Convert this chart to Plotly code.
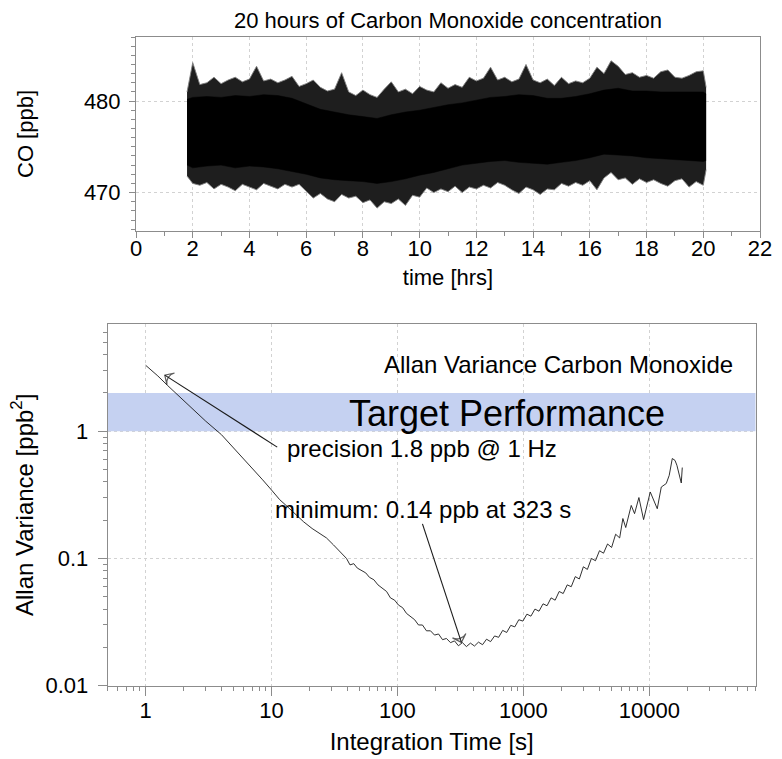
import math
import plotly.graph_objects as go

W, H = 782, 759

# ---------------- data ----------------
# Top panel: envelope of the 1 Hz CO record (spike tips and dense core)
t_hrs = [1.8, 2.0, 2.25, 2.5, 2.75, 3.0, 3.25, 3.5, 3.75, 4.0, 4.25, 4.5, 4.75,
         5.0, 5.25, 5.5, 5.75, 6.0, 6.25, 6.5, 6.75, 7.0, 7.25, 7.5, 7.75,
         8.0, 8.25, 8.5, 8.75, 9.0, 9.25, 9.5, 9.75, 10.0, 10.25, 10.5, 10.75,
         11.0, 11.25, 11.5, 11.75, 12.0, 12.25, 12.5, 12.75, 13.0, 13.25, 13.5, 13.75,
         14.0, 14.25, 14.5, 14.75, 15.0, 15.25, 15.5, 15.75, 16.0, 16.25, 16.5, 16.75,
         17.0, 17.25, 17.5, 17.75, 18.0, 18.25, 18.5, 18.75, 19.0, 19.25, 19.5, 19.75,
         20.0, 20.1]
co_max = [481.0, 484.2, 481.8, 482.0, 482.6, 481.9, 482.3, 482.6, 482.1, 482.4, 483.8, 482.2, 482.4,
          482.0, 482.3, 482.7, 481.6, 481.9, 482.3, 481.5, 481.1, 481.3, 483.1, 481.0, 480.6,
          481.2, 480.7, 480.4, 481.3, 482.1, 481.0, 481.3, 480.8, 481.6, 481.2, 481.0, 482.0,
          481.4, 481.8, 481.5, 482.6, 482.2, 482.5, 483.7, 482.3, 482.6, 482.1, 482.4, 484.0,
          482.3, 482.0, 482.4, 481.7, 482.6, 481.9, 482.2, 482.0, 482.5, 483.7, 483.0, 484.4,
          483.8, 482.9, 483.1, 482.6, 482.8, 482.5, 483.2, 483.4, 482.6, 482.5, 482.8, 483.2,
          483.3, 481.5]
co_min = [471.8, 471.0, 470.8, 471.1, 470.4, 470.9, 470.6, 470.2, 470.9, 470.6, 470.3, 471.0, 470.7,
          470.4, 470.9, 470.6, 470.9, 470.2, 469.4, 469.9, 469.3, 469.0, 469.8, 469.4, 469.6,
          468.9, 469.2, 468.3, 469.0, 468.8, 469.3, 468.6, 469.7, 469.5, 470.5, 470.0, 470.4,
          470.1, 470.7, 470.0, 470.6, 470.4, 470.8, 470.5, 471.1, 470.8, 470.3, 469.9, 470.6,
          470.3, 469.8, 470.4, 470.3, 471.0, 470.7, 471.1, 470.8, 471.3, 470.3, 471.6, 472.2,
          471.4, 471.6, 470.9, 471.5, 471.1, 471.4, 471.0, 470.7, 471.3, 471.5, 470.6, 471.2,
          470.8, 472.5]
t_core = [1.8, 2.0, 2.5, 3.0, 3.5, 4.0, 4.5, 5.0, 5.5, 6.0, 6.5, 7.0, 7.5, 8.0, 8.5, 9.0,
          9.5, 10.0, 10.5, 11.0, 11.5, 12.0, 12.5, 13.0, 13.5, 14.0, 14.5, 15.0, 15.5, 16.0,
          16.5, 17.0, 17.5, 18.0, 18.5, 19.0, 19.5, 20.0, 20.1]
co_hi = [480.2, 480.4, 480.5, 480.4, 480.6, 480.5, 480.7, 480.6, 480.3, 479.7, 479.1, 478.8,
         478.5, 478.3, 478.1, 478.5, 478.8, 479.0, 479.3, 479.6, 479.8, 480.1, 480.4, 480.5,
         480.7, 480.6, 480.3, 480.3, 480.5, 480.8, 481.2, 481.4, 481.1, 481.1, 481.0, 481.0,
         481.0, 481.0, 480.8]
co_lo = [473.0, 472.7, 472.9, 473.0, 472.7, 472.9, 472.8, 472.6, 472.3, 472.0, 471.6, 471.4,
         471.3, 471.2, 471.0, 471.2, 471.5, 471.9, 472.2, 472.6, 473.0, 473.2, 473.4, 473.5,
         473.3, 473.2, 473.1, 473.3, 473.5, 473.8, 474.2, 474.1, 474.0, 473.8, 473.7, 473.6,
         473.5, 473.4, 473.5]

# Bottom panel: Allan variance vs integration time
tau_s = [1, 1.25, 1.5, 2, 2.5, 3, 4, 5, 6, 7, 8.5, 10, 11.6, 13, 15.8, 18, 21, 24, 27.3, 31,
         35, 39.4, 42, 45, 48, 52, 56, 60, 65, 70, 76, 82, 88, 95, 102, 110, 118, 127, 137,
         147, 158, 170, 183, 197, 212, 228, 245, 264, 284, 305, 328, 353, 380, 409, 440, 474,
         510, 549, 591, 636, 685, 737, 794, 855, 920, 991, 1067, 1148, 1236, 1331, 1433, 1542,
         1660, 1788, 1925, 2072, 2230, 2400, 2584, 2782, 2995, 3224, 3471, 3737, 4023, 4331,
         4663, 5020, 5404, 5818, 6170, 6500, 7190, 7640, 8270, 9010, 10180, 11570, 12450,
         13640, 14400, 15230, 16000, 16570, 17950, 18280]
allan_var = [3.30, 2.72, 2.28, 1.75, 1.42, 1.20, 0.94, 0.74, 0.61, 0.51, 0.415, 0.345, 0.290,
             0.262, 0.218, 0.194, 0.172, 0.158, 0.145, 0.128, 0.113, 0.100, 0.089, 0.091, 0.084,
             0.080, 0.077, 0.071, 0.068, 0.062, 0.058, 0.055, 0.049, 0.047, 0.043, 0.041, 0.037,
             0.035, 0.033, 0.030, 0.030, 0.027, 0.027, 0.025, 0.0255, 0.023, 0.0235, 0.0218,
             0.0225, 0.0206, 0.0218, 0.0203, 0.0216, 0.0205, 0.0220, 0.0210, 0.0232, 0.0222,
             0.0246, 0.0240, 0.0272, 0.0262, 0.0298, 0.0290, 0.0330, 0.0322, 0.0365, 0.0352,
             0.0400, 0.0385, 0.0440, 0.0425, 0.0490, 0.0470, 0.0550, 0.0530, 0.0620, 0.0600,
             0.0720, 0.0690, 0.0860, 0.0820, 0.1000, 0.0960, 0.1150, 0.1100, 0.1300, 0.1220,
             0.1550, 0.1450, 0.2060, 0.1750, 0.2610, 0.2250, 0.3010, 0.2020, 0.3330, 0.2460,
             0.3640, 0.3880, 0.4500, 0.6100, 0.5900, 0.5400, 0.3920, 0.5180]

target_band = [1.0, 2.0]            # target performance band [ppb^2]
precision_arrow_tau = [11.1, 1.42]  # arrow tail -> head (s)
precision_arrow_av = [0.75, 2.76]   # arrow tail -> head (ppb^2)
minimum_arrow_tau = [158, 322]
minimum_arrow_av = [0.187, 0.0219]

x_ticks_top = [0, 2, 4, 6, 8, 10, 12, 14, 16, 18, 20, 22]
y_ticks_top = [470, 480]
x_ticks_bot = [1, 10, 100, 1000, 10000]
x_ticklabels_bot = ["1", "10", "100", "1000", "10000"]
y_ticks_bot = [0.01, 0.1, 1]
y_ticklabels_bot = ["0.01", "0.1", "1"]

assert len(t_hrs) == len(co_max) == len(co_min)
assert len(t_core) == len(co_hi) == len(co_lo)
assert len(tau_s) == len(allan_var)

# ---------------- helpers ----------------
FONT = "Liberation Sans, Arial, Helvetica, sans-serif"


def pxx(x):
    return x / W


def pxy(y):
    return 1 - y / H


x_range_bot = [0.5, 70000]
y_range_bot = [0.01, 6.96]
minor_log = [m * 10 ** e for e in range(-3, 6) for m in range(2, 10)]

fig = go.Figure()

# ---- top panel ----
fig.add_trace(go.Scatter(x=t_hrs, y=co_max, mode="lines", line=dict(color="#808080", width=0.9),
                         xaxis="x", yaxis="y", showlegend=False, hoverinfo="skip"))
fig.add_trace(go.Scatter(x=t_hrs, y=co_min, mode="lines", line=dict(color="#808080", width=0.9),
                         fill="tonexty", fillcolor="#1e1e1e",
                         xaxis="x", yaxis="y", showlegend=False, hoverinfo="skip"))
fig.add_trace(go.Scatter(x=t_core, y=co_hi, mode="lines", line=dict(color="black", width=0.5),
                         xaxis="x", yaxis="y", showlegend=False, hoverinfo="skip"))
fig.add_trace(go.Scatter(x=t_core, y=co_lo, mode="lines", line=dict(color="black", width=0.5),
                         fill="tonexty", fillcolor="black",
                         xaxis="x", yaxis="y", showlegend=False, hoverinfo="skip"))

# ---- bottom panel ----
fig.add_trace(go.Scatter(x=x_range_bot, y=[target_band[1]] * 2, mode="lines",
                         line=dict(width=0, color="rgba(0,0,0,0)"),
                         xaxis="x2", yaxis="y2", showlegend=False, hoverinfo="skip"))
fig.add_trace(go.Scatter(x=x_range_bot, y=[target_band[0]] * 2, mode="lines",
                         line=dict(width=0, color="rgba(0,0,0,0)"),
                         fill="tonexty", fillcolor="rgb(197,209,241)",
                         xaxis="x2", yaxis="y2", showlegend=False, hoverinfo="skip"))
fig.add_trace(go.Scatter(x=tau_s, y=allan_var, mode="lines", line=dict(color="#1a1a1a", width=0.9),
                         xaxis="x2", yaxis="y2", showlegend=False))

for ax_tau, ax_av in [(precision_arrow_tau, precision_arrow_av), (minimum_arrow_tau, minimum_arrow_av)]:
    fig.add_trace(go.Scatter(
        x=ax_tau, y=ax_av, mode="lines+markers",
        line=dict(color="#1a1a1a", width=1.1),
        marker=dict(symbol="arrow-wide-open", size=[0, 10], angleref="previous",
                    color="#1a1a1a", line=dict(color="#1a1a1a", width=1.2)),
        xaxis="x2", yaxis="y2", showlegend=False, hoverinfo="skip"))

axis_common = dict(showline=True, linecolor="#8c8c8c", linewidth=1, mirror=True,
                   ticks="outside", tickcolor="#8c8c8c", tickwidth=1,
                   showgrid=True, gridcolor="#d2d2d2", gridwidth=1, griddash="dot",
                   zeroline=False, color="black", automargin=False)

fig.update_layout(
    width=W, height=H,
    margin=dict(l=0, r=0, t=0, b=0),
    paper_bgcolor="white", plot_bgcolor="white",
    font=dict(family=FONT, color="black"),
    xaxis=dict(domain=[pxx(136), pxx(760)], range=[0, 22], anchor="y",
               tickmode="array", tickvals=x_ticks_top, tickfont=dict(size=22), ticklen=6,
               ticklabelstandoff=-8,
               minor=dict(dtick=1, tick0=0, ticks="outside", ticklen=4, tickcolor="#8c8c8c",
                          showgrid=False),
               title=dict(text="time [hrs]", font=dict(size=22), standoff=9),
               **axis_common),
    yaxis=dict(domain=[pxy(231), pxy(37)], range=[465.8, 487.0], anchor="x",
               tickmode="array", tickvals=y_ticks_top, tickfont=dict(size=22), ticklen=6,
               ticklabelstandoff=4,
               minor=dict(dtick=1, tick0=0, ticks="outside", ticklen=4, tickcolor="#8c8c8c",
                          showgrid=False),
               title=dict(text="CO [ppb]", font=dict(size=22), standoff=44),
               **axis_common),
    xaxis2=dict(type="log", domain=[pxx(107.7), pxx(755.7)],
                range=[math.log10(x_range_bot[0]), math.log10(x_range_bot[1])], anchor="y2",
                tickmode="array", tickvals=x_ticks_bot, ticktext=x_ticklabels_bot,
                tickfont=dict(size=22), ticklen=9, ticklabelstandoff=-4,
                minor=dict(tickmode="array", tickvals=minor_log, ticks="outside", ticklen=4,
                           tickcolor="#8c8c8c", showgrid=False),
                title=dict(text="Integration Time [s]", font=dict(size=24), standoff=11),
                **axis_common),
    yaxis2=dict(type="log", domain=[pxy(685.7), pxy(324)],
                range=[math.log10(y_range_bot[0]), math.log10(y_range_bot[1])], anchor="x2",
                tickmode="array", tickvals=y_ticks_bot, ticktext=y_ticklabels_bot,
                tickfont=dict(size=22), ticklen=9, ticklabelstandoff=5,
                minor=dict(tickmode="array", tickvals=minor_log, ticks="outside", ticklen=4,
                           tickcolor="#8c8c8c", showgrid=False),
                title=dict(text="Allan Variance [ppb<sup>2</sup>]", font=dict(size=24), standoff=5),
                **axis_common),
)

annotations = [
    dict(text="20 hours of Carbon Monoxide concentration", x=pxx(447.5), y=pxy(20.5),
         font=dict(size=22)),
    dict(text="Allan Variance Carbon Monoxide", x=pxx(558), y=pxy(364.5), font=dict(size=24)),
    dict(text="Target Performance", x=pxx(507), y=pxy(413.5), font=dict(size=36)),
    dict(text="precision 1.8 ppb @ 1 Hz", x=pxx(422), y=pxy(449), font=dict(size=24)),
    dict(text="minimum: 0.14 ppb at 323 s", x=pxx(423.3), y=pxy(509.5), font=dict(size=24)),
]
for a in annotations:
    a.update(xref="paper", yref="paper", xanchor="center", yanchor="middle", showarrow=False)

fig.update_layout(annotations=annotations)

fig.write_html("out.html", config={"displayModeBar": False},
               post_script="document.body.style.margin='0';document.body.style.overflow='hidden';")
